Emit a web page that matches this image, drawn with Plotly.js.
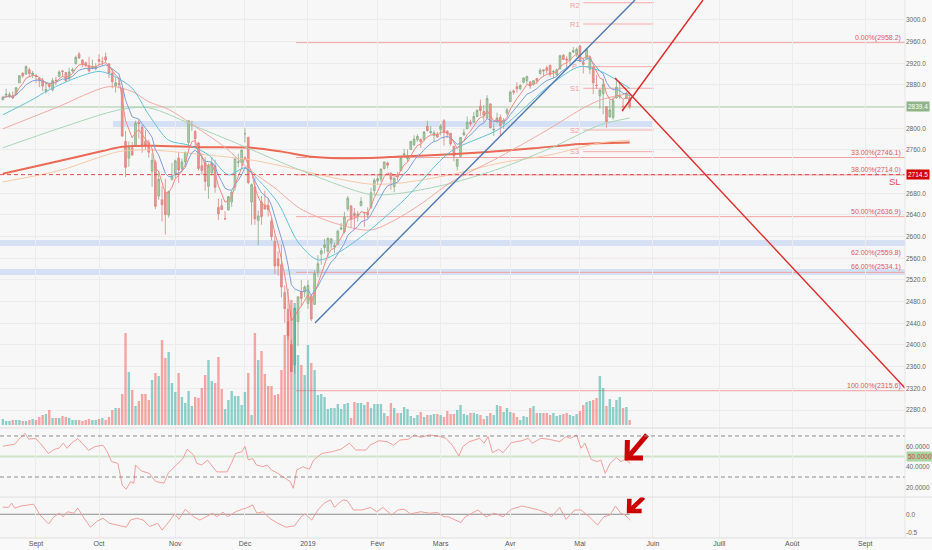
<!DOCTYPE html>
<html><head><meta charset="utf-8">
<script src="https://cdn.plot.ly/plotly-3.0.1.min.js"></script>
<style>html,body{margin:0;padding:0;background:#f9f9f9;}#chart{width:932px;height:550px;}</style>
</head><body><div id="chart"></div>
<script>
// ---- daily OHLC (bar index 0 = 20 Aug 2018 ... 189 = 22 May 2019) ----
const openP = [2853,2861,2860,2860,2862,2884,2902,2900,2908,2899,
2897,2892,2889,2868,2881,2871,2889,2896,2906,2903,
2891,2906,2919,2937,2926,2921,2916,2911,2910,2927,
2923,2932,2919,2902,2878,2883,2874,2776,2745,2764,
2767,2811,2802,2776,2774,2721,2737,2675,2668,2682,
2640,2705,2717,2745,2726,2738,2774,2806,2794,2773,
2731,2737,2693,2718,2731,2654,2657,2633,2649,2664,
2692,2737,2737,2790,2783,2664,2692,2630,2664,2658,
2658,2629,2591,2559,2548,2497,2466,2401,2363,2443,
2499,2498,2477,2491,2475,2535,2568,2580,2573,2588,
2581,2586,2614,2609,2651,2657,2643,2638,2657,2644,
2644,2654,2685,2703,2706,2726,2736,2717,2692,2713,
2722,2751,2744,2761,2770,2779,2780,2780,2804,2792,
2787,2789,2798,2814,2795,2791,2767,2730,2748,2788,
2799,2811,2811,2822,2841,2831,2819,2845,2797,2813,
2820,2809,2828,2849,2869,2877,2873,2885,2888,2886,
2881,2892,2901,2908,2912,2916,2904,2899,2910,2935,
2928,2926,2941,2937,2952,2922,2929,2909,2913,2880,
2860,2864,2840,2821,2820,2856,2858,2841,2855,2857];
const highP = [2860,2873,2867,2868,2876,2898,2903,2916,2912,2906,
2900,2894,2893,2884,2884,2893,2895,2907,2908,2904,
2912,2912,2934,2941,2928,2923,2932,2927,2920,2937,
2932,2940,2920,2910,2894,2894,2874,2795,2776,2775,
2814,2816,2807,2797,2779,2754,2742,2722,2693,2707,
2685,2736,2742,2756,2744,2756,2815,2814,2797,2775,
2754,2747,2735,2747,2742,2670,2670,2647,2675,2685,
2744,2753,2760,2800,2785,2698,2709,2648,2675,2685,
2671,2635,2602,2573,2585,2510,2504,2410,2468,2489,
2520,2510,2520,2493,2538,2566,2579,2596,2598,2596,
2589,2613,2625,2646,2675,2657,2653,2647,2673,2645,
2654,2690,2708,2716,2725,2738,2739,2719,2709,2719,
2749,2762,2761,2776,2787,2789,2781,2795,2814,2804,
2796,2793,2808,2817,2796,2791,2767,2744,2784,2799,
2822,2816,2830,2835,2853,2843,2861,2846,2809,2829,
2826,2819,2837,2870,2872,2885,2882,2894,2896,2886,
2889,2893,2911,2909,2916,2918,2908,2910,2936,2937,
2933,2940,2950,2949,2954,2931,2948,2933,2913,2898,
2871,2892,2841,2852,2858,2892,2885,2853,2868,2862];
const lowP = [2851,2861,2856,2854,2862,2884,2893,2899,2895,2893,
2884,2876,2869,2864,2873,2868,2880,2894,2895,2886,
2890,2903,2919,2928,2913,2913,2903,2909,2907,2917,
2916,2921,2893,2874,2866,2874,2784,2710,2729,2749,
2767,2781,2755,2760,2746,2692,2651,2668,2628,2604,
2635,2705,2708,2700,2720,2731,2766,2795,2765,2722,
2714,2685,2670,2713,2681,2631,2649,2631,2649,2655,
2685,2728,2731,2774,2697,2622,2622,2584,2622,2650,
2637,2593,2531,2528,2488,2441,2409,2351,2347,2398,
2472,2488,2467,2444,2474,2525,2548,2569,2562,2578,
2570,2586,2612,2606,2647,2617,2613,2628,2657,2618,
2634,2651,2678,2696,2701,2724,2726,2687,2682,2704,
2722,2748,2738,2760,2767,2775,2764,2776,2794,2789,
2775,2782,2787,2768,2782,2768,2739,2722,2748,2786,
2799,2804,2811,2821,2823,2812,2818,2800,2786,2809,
2787,2799,2824,2849,2862,2866,2871,2883,2881,2873,
2879,2882,2899,2897,2901,2895,2892,2897,2908,2927,
2912,2918,2939,2932,2923,2901,2929,2900,2863,2873,
2836,2826,2801,2820,2816,2855,2854,2831,2855,2836];
const closeP = [2857,2863,2862,2856,2875,2897,2897,2914,2901,2902,
2896,2888,2878,2872,2877,2888,2888,2904,2905,2888,
2904,2908,2931,2930,2919,2916,2906,2914,2914,2924,
2923,2926,2902,2886,2884,2881,2786,2728,2767,2751,
2810,2809,2769,2768,2756,2741,2656,2706,2659,2641,
2683,2712,2740,2723,2738,2756,2814,2807,2781,2726,
2722,2702,2730,2736,2691,2642,2650,2633,2674,2682,
2744,2738,2760,2790,2700,2696,2633,2638,2637,2651,
2650,2600,2546,2546,2507,2467,2417,2351,2468,2489,
2486,2507,2510,2448,2532,2550,2574,2585,2597,2596,
2583,2610,2616,2636,2671,2633,2639,2642,2665,2644,
2640,2681,2704,2707,2725,2738,2732,2706,2708,2710,
2745,2753,2746,2776,2780,2785,2775,2793,2796,2794,
2792,2784,2804,2793,2790,2771,2749,2743,2783,2792,
2811,2808,2822,2833,2833,2824,2855,2801,2798,2819,
2805,2815,2834,2867,2867,2873,2879,2893,2896,2878,
2888,2888,2907,2906,2907,2900,2905,2908,2934,2927,
2926,2940,2943,2946,2924,2918,2946,2932,2884,2879,
2871,2881,2812,2834,2851,2876,2860,2840,2864,2839.4];
const volume = [6,4,4,5,5,5,4,4,5,6,
5,8,10,11,15,7,7,7,9,8,
7,5,5,5,4,5,6,5,5,6,
7,5,8,15,17,17,31,92,53,35,
19,24,31,31,25,45,52,49,85,67,
73,42,33,52,28,22,34,19,28,27,
37,50,65,44,42,68,36,16,25,34,
29,29,20,33,52,10,92,65,74,51,
39,39,30,31,55,90,104,125,122,70,
60,50,80,62,55,30,31,28,16,17,
17,21,16,21,22,7,23,22,22,20,
23,17,21,21,21,12,9,22,17,12,
12,18,16,9,7,10,13,8,10,10,
11,11,10,8,14,11,11,15,20,11,
10,12,12,11,10,6,9,12,10,20,
19,13,17,13,12,8,5,9,8,17,
19,12,12,12,12,10,12,9,10,11,
12,10,9,11,14,20,23,24,25,27,
49,37,19,26,18,25,28,17,18,5];

// ---- month ticks (bar index of first session of each month; future sessions included) ----
const monthIdx = [10,29,52,73,92,113,132,153,174,196,216,238,260];
const monthLabels = ['Sept','Oct','Nov','Déc','2019','Févr','Mars','Avr','Mai','Juin','Juill','Août','Sept'];

// ---- moving averages (bar index, price) ----
const cyanIdx = [0,8,14,22,29,33,39,44,50,56,62,68,73,77,83,89,95,101,110,121,135,150,165,174,180,189];
const cyanVal = [2825,2850,2871,2893,2905,2898,2874,2825,2778,2769,2751,2714,2727,2705,2662,2590,2557,2570,2609,2668,2757,2800,2880,2914,2906,2874];
const salmonIdx = [0,16,32,39,44,50,59.5,67,74.5,82,89.6,100,110.7,118,126,135,150,165,174,180,189];
const salmonVal = [2799,2838,2877,2868,2849,2835,2797,2765,2723,2690,2652,2625,2612,2630,2660,2700,2748,2800,2834,2852,2865];
const greenIdx = [0,17,35,44,59.5,69.5,89.6,110.7,119.7,134.8,149.9,165,180,189];
const greenVal = [2764,2800,2834,2838,2800,2775,2723,2678,2680,2698,2726,2763,2806,2819];
const orangeIdx = [0,17,35,44,59.5,74.5,89.6,95.6,110.7,119.7,134.8,149.9,165,180,189];
const orangeVal = [2701,2722,2757,2760,2752,2742,2723,2714,2697,2699,2714,2736,2751,2773,2778];
const ma200Idx = [0,15,30,36,45,60,75,84,94,110,120,135,145,160,174,189];
const ma200Val = [2716,2737,2758,2766,2768,2765,2764,2757,2747,2745,2748,2752,2756,2763,2771,2774];

// ---- RSI pane (bar index, value) ----
const rsiIdx = [0,1.7,3.6,4.9,6.7,7.8,9.9,11.8,13.7,15.6,16.9,18.2,19.4,20.7,22.6,23.9,25.8,27.7,30.2,31.5,32.8,34.7,36,37.2,38.5,39.5,40,41.7,44.2,46.1,47.4,48.6,49.9,52.4,54.3,55.6,57.5,58.5,60,61.7,63.2,64.5,66.4,67.6,68.9,70.2,72.1,73,74,75.3,76.5,78.4,79.7,81,82.9,84.8,86.7,87.6,88.6,90.5,92.4,93.7,96.2,99.3,101.9,104.5,106.4,109.5,110.7,113.4,115.9,117.8,119.7,122.2,124.1,126,128.6,131.1,133.6,135.5,137.5,138.7,140.6,143.8,145.1,146.3,147.6,149.5,150.8,153.3,156.5,158.4,159.7,162.2,164.7,167.9,169.8,171.1,173,174.3,175.5,177.4,179.3,180.3,181.6,183.1,185,186.3,187.6,189.2];
const rsiVal = [60,61,62,67,72.5,67,67.5,61,53,57,58,63,58,63,67.5,63,56,59.5,61,54.5,45,43.3,22,18,25.5,24,41.7,36,33.5,25.5,24.5,24,34,41.7,48,57,51.5,43.3,41.7,46.6,40,35,35,35,43.3,53,54.7,60,46.6,48,41.7,40,41.7,36.8,33.6,29.7,25.4,19,36.8,40,37.5,46.6,53,54.7,57,63,56.3,56.3,61,65.4,64.4,61,66,66.8,71,68.7,71,70,67.7,61,50.5,59.6,64.4,67.7,63,69.4,53.7,57,53.7,63.5,65.4,67.7,63,67.7,66.8,64.4,69.4,67.7,71,58,63,47,45,46.6,33.6,43.3,49,45,47,43.3];

// ---- lower oscillator pane (bar index, value) ----
const oscIdx = [0,1.7,2.7,3.6,5.5,8.7,9.3,11.2,13.8,15.4,17,18.2,19.5,21.4,22.6,24.5,26.4,28.3,30.2,32.1,34.7,37.2,38.5,40.4,42.3,44.2,46.7,48,49.9,51.8,53.1,55,57.5,59.4,61.3,63.2,64.5,66.4,67.7,70.2,72.1,73.4,75.3,76.6,78.5,80.4,82.9,85.4,88,89.9,91.2,93.1,95,96.9,98.8,100,101.3,102.6,103.8,105.7,108.3,110.8,112.7,114.6,117.2,119.1,121,122.9,126,128.6,131.1,133,134.3,136.2,138.1,139.4,141.3,143.2,145.7,148.3,150.8,153.3,156.5,159,161.6,164.1,165.4,167.9,169.8,172.4,174.3,176.8,179.3,181.2,183.1,184.7,186.3,187.6,189.2];
const oscVal = [0.2,0.19,0.31,0.17,0.23,0.26,0.28,-0.02,-0.27,-0.07,0.03,-0.07,0.07,0.03,0.17,-0.11,-0.36,-0.2,-0.11,-0.25,-0.3,-0.36,-0.16,-0.11,-0.16,-0.34,-0.25,-0.44,-0.23,0.01,-0.14,0.14,-0.07,-0.16,-0.07,0.03,-0.07,0.06,-0.07,0.07,0.14,0.17,0.26,0.03,0.07,-0.11,-0.25,-0.36,-0.32,-0.07,0.01,-0.16,0.12,0.31,0.4,0.19,0.31,0.4,0.38,0.12,0.12,0.19,0.07,0.19,-0.02,0.12,0.14,0.01,0.07,0.03,0.05,-0.07,-0.07,-0.14,-0.23,-0.07,0.03,0.12,-0.07,0.03,-0.07,0.14,0.23,0.17,0.12,0.03,-0.07,0.19,-0.14,0.12,0.12,-0.07,-0.3,-0.07,-0.02,0.23,0.03,-0.02,-0.16];

// ---- drawings ----
const fibPct = [0,33,38,50,62,66,100];
const fibPrice = [2958.2,2746.1,2714.0,2636.9,2559.8,2534.1,2315.6];
const fibStart = 88.4;
const pivotNames = ['R2','R1','P','S1','S2','S3'];
const pivotLevels = [3031.9,2992.6,2913.8,2873.9,2796.9,2756.9];
const pivotStart = 175, pivotEnd = 196.3, pivotLabelAt = 172.4;
const zoneX0 = [33.2,-1,-1], zoneX1 = [196,273,273];
const zoneLo = [2802.5,2582.8,2529.3], zoneHi = [2813.6,2593.8,2540.3];
const slLevel = 2714.5;
const blueTrendX = [94.1,190.6], blueTrendY = [2440.6,3036.9];
const redDownX = [184.6,272], redDownY = [2892.9,2320.6];
const redUpX = [186.7,211.1], redUpY = [2832,3036.9];
// hand-drawn arrows: [arm-up, tip, arm-right, gap, tail, tip]
const arrowRsiX = [188.3,188.2,193.0,null,194.2,188.4];
const arrowRsiY = [66,48.5,48.5,null,71,49];
const arrowOscX = [188.9,188.8,192.6,null,193.2,189.0];
const arrowOscY = [0.43,0.09,0.09,null,0.47,0.10];

// ------------------------------------------------------------
const N = closeP.length;
const idx = closeP.map((_, i) => i);
const lastPrice = closeP[N - 1];
function ema(arr, n) { const k = 2 / (n + 1); const out = []; let e = arr[0]; arr.forEach((v, i) => { e = i === 0 ? v : v * k + e * (1 - k); out.push(e); }); return out; }
const emaFast = ema(closeP, 5), emaMid = ema(closeP, 10);
const volColors = closeP.map((c, i) => c >= openP[i] ? 'rgba(38,166,154,0.5)' : 'rgba(239,83,80,0.5)');

const FONT = 'Liberation Sans, Arial, sans-serif';
const XR = [-0.85, 272];

function maLine(x, y, color, w, spline) {
  return { type: 'scatter', mode: 'lines', x: x, y: y, xaxis: 'x', yaxis: 'y', hoverinfo: 'skip',
    line: { color: color, width: w, shape: spline ? 'spline' : 'linear', smoothing: 0.8 } };
}

const traces = [
  maLine(ma200Idx, ma200Val, '#ea6a55', 2, true),
  maLine(orangeIdx, orangeVal, '#f8c9a6', 1, true),
  maLine(greenIdx, greenVal, '#a9d6b7', 1, true),
  maLine(salmonIdx, salmonVal, '#f3aaa2', 1, true),
  maLine(cyanIdx, cyanVal, '#62c2d8', 1, true),
  maLine(idx, emaMid, '#7d9fdb', 1, false),
  maLine(idx, emaFast, '#f08880', 1, false),
  { type: 'candlestick', x: idx, open: openP, high: highP, low: lowP, close: closeP, xaxis: 'x', yaxis: 'y',
    increasing: { line: { color: '#8aab86', width: 0.8 }, fillcolor: '#a9d2a3' },
    decreasing: { line: { color: '#d98680', width: 0.8 }, fillcolor: '#ee948e' },
    whiskerwidth: 0, hoverinfo: 'skip' },
  maLine(blueTrendX, blueTrendY, '#4d79b3', 1.4, false),
  maLine(redDownX, redDownY, '#e02a2a', 1.4, false),
  maLine(redUpX, redUpY, '#e02a2a', 1.4, false),
  { type: 'bar', x: idx, y: volume, xaxis: 'x', yaxis: 'y2', marker: { color: volColors, line: { width: 0 } }, width: 0.72, hoverinfo: 'skip' },
  { type: 'scatter', mode: 'lines', x: rsiIdx, y: rsiVal, xaxis: 'x', yaxis: 'y3', hoverinfo: 'skip', line: { color: '#f0a19b', width: 1 } },
  { type: 'scatter', mode: 'lines', x: oscIdx, y: oscVal, xaxis: 'x', yaxis: 'y4', hoverinfo: 'skip', line: { color: '#f0a19b', width: 1 } },
  { type: 'scatter', mode: 'lines', x: arrowRsiX, y: arrowRsiY, xaxis: 'x', yaxis: 'y3', hoverinfo: 'skip', connectgaps: false, line: { color: '#cc0000', width: 5 } },
  { type: 'scatter', mode: 'lines', x: arrowOscX, y: arrowOscY, xaxis: 'x', yaxis: 'y4', hoverinfo: 'skip', connectgaps: false, line: { color: '#cc0000', width: 4.5 } }
];

const priceTicks = [];
for (let p = 2280; p <= 3000; p += 40) { if (p !== 2720 && p !== 2840) priceTicks.push(p); }

const shapes = [];
zoneX0.forEach((x0, k) => shapes.push({ type: 'rect', xref: 'x', yref: 'y', x0: x0, x1: zoneX1[k], y0: zoneLo[k], y1: zoneHi[k], fillcolor: 'rgba(170,196,240,0.45)', line: { width: 0 }, layer: 'below' }));
fibPrice.forEach(p => shapes.push({ type: 'line', xref: 'x', yref: 'y', x0: fibStart, x1: XR[1], y0: p, y1: p, line: { color: '#f2a3a3', width: 1 }, layer: 'below' }));
pivotLevels.forEach(p => shapes.push({ type: 'line', xref: 'x', yref: 'y', x0: pivotStart, x1: pivotEnd, y0: p, y1: p, line: { color: '#f4abab', width: 1 }, layer: 'below' }));
shapes.push({ type: 'line', xref: 'paper', yref: 'y', x0: 0, x1: 1, y0: slLevel, y1: slLevel, line: { color: '#e14b4b', width: 1, dash: '4px,3px' } });
shapes.push({ type: 'line', xref: 'paper', yref: 'y', x0: 0, x1: 1, y0: lastPrice, y1: lastPrice, line: { color: '#a9c7a3', width: 1 }, layer: 'below' });
[70, 30].forEach(v => shapes.push({ type: 'line', xref: 'paper', yref: 'y3', x0: 0, x1: 1, y0: v, y1: v, line: { color: '#8c8c8c', width: 1, dash: '4px,3px' } }));
shapes.push({ type: 'line', xref: 'paper', yref: 'y3', x0: 0, x1: 1, y0: 50, y1: 50, line: { color: '#cfe3ca', width: 2 }, layer: 'below' });
shapes.push({ type: 'line', xref: 'x', yref: 'y4', x0: XR[0], x1: N - 1, y0: 0, y1: 0, line: { color: '#8c8c8c', width: 1 }, layer: 'below' });
[0.2045, 0.0762, 0].forEach(v => shapes.push({ type: 'line', xref: 'paper', yref: 'paper', x0: 0, x1: 1.03, y0: v, y1: v, line: { color: '#dedede', width: 1 } }));
shapes.push({ type: 'line', xref: 'paper', yref: 'paper', x0: 1, x1: 1, y0: 0, y1: 1, line: { color: '#e6e6e6', width: 1 } });

const annotations = [];
fibPct.forEach((pc, k) => annotations.push({ xref: 'paper', yref: 'y', x: 0.9967, y: fibPrice[k], xanchor: 'right', yanchor: 'bottom', showarrow: false,
  text: pc.toFixed(2) + '%(' + fibPrice[k].toFixed(1) + ')', font: { family: FONT, size: 7, color: '#e05757' }, borderpad: 0 }));
pivotNames.forEach((nm, k) => annotations.push({ xref: 'x', yref: 'y', x: pivotLabelAt, y: pivotLevels[k], xanchor: 'center', yanchor: 'middle', showarrow: false,
  yshift: k === 0 ? -3 : 0, text: nm, font: { family: FONT, size: 7.5, color: '#f09e9e' } }));
annotations.push({ xref: 'paper', yref: 'y', x: 0.9975, y: slLevel - 12, xanchor: 'right', yanchor: 'middle', showarrow: false, text: 'SL', font: { family: FONT, size: 9.5, color: '#e05050' } });
function box(yref, y, txt, bg, col) {
  return { xref: 'paper', yref: yref, x: 1, xshift: 1, y: y, xanchor: 'left', yanchor: 'middle', showarrow: false, text: txt,
    bgcolor: bg, borderpad: 1, font: { family: FONT, size: 6.5, color: col } };
}
annotations.push(box('y', lastPrice, lastPrice.toFixed(1), '#8fb48a', '#ffffff'));
annotations.push(box('y', slLevel, slLevel.toFixed(1), '#d40000', '#ffffff'));
annotations.push(box('y3', 50, '50.0000', '#a9d39f', '#d04545'));

const tickFont = { family: FONT, size: 6.5, color: '#666' };
const layout = {
  width: 932, height: 550,
  margin: { l: 0, r: 27, t: 0, b: 12 },
  paper_bgcolor: '#f9f9f9', plot_bgcolor: '#f7f7f7',
  showlegend: false, hovermode: false, boxgap: 0.25,
  xaxis: { range: XR, anchor: 'y4', tickvals: monthIdx, ticktext: monthLabels, showgrid: true, gridcolor: '#ececec',
    zeroline: false, showline: false, ticks: '', tickfont: { family: FONT, size: 7, color: '#555' }, rangeslider: { visible: false }, fixedrange: true },
  yaxis: { domain: [0.2045, 1], range: [2246.8, 3036.9], side: 'right', tickvals: priceTicks, ticktext: priceTicks.map(p => p.toFixed(1)),
    showgrid: true, gridcolor: '#ececec', zeroline: false, ticks: '', tickfont: tickFont, anchor: 'x' },
  yaxis2: { overlaying: 'y', range: [-3, 425], visible: false, anchor: 'x' },
  yaxis3: { domain: [0.0762, 0.2045], range: [10.5, 77.8], side: 'right', tickvals: [20, 40, 60], ticktext: ['20.0000', '40.0000', '60.0000'],
    showgrid: false, zeroline: false, ticks: '', tickfont: tickFont, anchor: 'x' },
  yaxis4: { domain: [0, 0.0762], range: [-0.66, 0.48], side: 'right', tickvals: [0, -0.5], ticktext: ['0.0', '-0.5'],
    showgrid: false, zeroline: false, ticks: '', tickfont: tickFont, anchor: 'x' },
  shapes: shapes, annotations: annotations
};
Plotly.newPlot('chart', traces, layout, { displayModeBar: false, staticPlot: true });
</script></body></html>
